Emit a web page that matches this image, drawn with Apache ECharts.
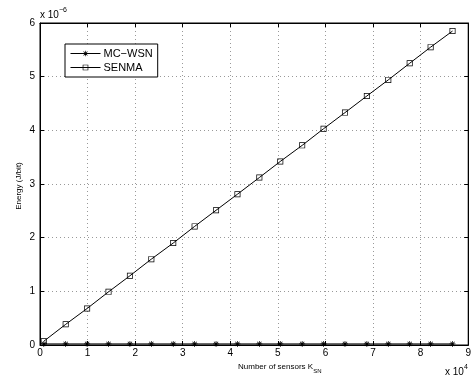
<!DOCTYPE html>
<html><head><meta charset="utf-8">
<script src="https://cdn.jsdelivr.net/npm/echarts@6/dist/echarts.min.js"></script>
<style>html,body{margin:0;padding:0;background:#fff}#c{width:474px;height:381px}</style>
</head><body><div id="c"></div>
<script>
// Data (x in units of 1e4 sensors, y in units of 1e-6 J/bit)
var sensorsX1e4 = [0.08, 0.54, 0.99, 1.44, 1.89, 2.34, 2.80, 3.25, 3.70, 4.15, 4.61, 5.05, 5.51, 5.96, 6.41, 6.87, 7.32, 7.77, 8.21, 8.67];
var senmaE = [0.07, 0.385, 0.68, 0.99, 1.29, 1.60, 1.90, 2.21, 2.51, 2.81, 3.12, 3.42, 3.72, 4.03, 4.33, 4.64, 4.94, 5.25, 5.55, 5.85];
var mcwsnE = [0.02, 0.02, 0.02, 0.02, 0.02, 0.02, 0.02, 0.02, 0.02, 0.02, 0.02, 0.02, 0.02, 0.02, 0.02, 0.02, 0.02, 0.02, 0.02, 0.02];
var seriesNames = ['MC\u2212WSN', 'SENMA'];
var xTicks = [0,1,2,3,4,5,6,7,8,9];
var yTicks = [0,1,2,3,4,5,6];

var FONT = "'Liberation Sans', Arial, Helvetica, sans-serif";
function pairs(xs, ys){ return xs.map(function(x,i){return [x, ys[i]];}); }

var starPath = 'path://M-0.6,-5L0.6,-5L0.6,5L-0.6,5Z' +
  'M-5,-0.6L5,-0.6L5,0.6L-5,0.6Z' +
  'M-3.11,-3.96L3.96,3.11L3.11,3.96L-3.96,-3.11Z' +
  'M-3.96,3.11L3.11,-3.96L3.96,-3.11L-3.11,3.96Z';
var boxPath = 'path://M-5,-5L5,-5L5,5L-5,5Z M-3.8,-3.8L-3.8,3.8L3.8,3.8L3.8,-3.8Z';

var chart = echarts.init(document.getElementById('c'), null, {renderer:'canvas'});
var split = {show:true, lineStyle:{color:'#999', type:[1,3], width:1}};
var axisCommon = {
  axisLine:{show:true, onZero:false, lineStyle:{color:'#000', width:1}},
  axisTick:{show:true, inside:true, length:4, lineStyle:{color:'#000'}},
};
chart.setOption({
  animation:false,
  backgroundColor:'#fff',
  textStyle:{fontFamily:FONT},
  grid:{left:40, right:3, top:23, bottom:36, show:true, borderColor:'#000', borderWidth:1, backgroundColor:'transparent'},
  legend:{
    left:65, top:44, orient:'vertical', padding:[4,5,4,5], itemGap:3,
    itemWidth:30, itemHeight:7, backgroundColor:'#fff', borderColor:'#000', borderWidth:1,
    lineStyle:{width:1, color:'#000'},
    textStyle:{fontFamily:FONT, fontSize:11, color:'#000', padding:[0,0,0,-2]},
    data:seriesNames
  },
  xAxis:[
    Object.assign({type:'value', min:0, max:9, interval:1,
      axisLabel:{color:'#000', fontSize:10, fontFamily:FONT, margin:3},
      splitLine:split}, axisCommon),
    Object.assign({type:'value', min:0, max:9, interval:1, position:'top',
      axisLabel:{show:false}, splitLine:{show:false}}, axisCommon)
  ],
  yAxis:[
    Object.assign({type:'value', min:0, max:6, interval:1,
      axisLabel:{color:'#000', fontSize:10, fontFamily:FONT, margin:5},
      splitLine:split}, axisCommon),
    Object.assign({type:'value', min:0, max:6, interval:1, position:'right',
      axisLabel:{show:false}, splitLine:{show:false}}, axisCommon)
  ],
  series:[
    {name:seriesNames[0], type:'line', data:pairs(sensorsX1e4, mcwsnE), symbol:starPath, symbolSize:6,
      lineStyle:{color:'#000', width:1}, itemStyle:{color:'#000'}, z:3},
    {name:seriesNames[1], type:'line', data:pairs(sensorsX1e4, senmaE), symbol:boxPath, symbolSize:6,
      lineStyle:{color:'#000', width:1}, itemStyle:{color:'#000'}, z:3}
  ],
  graphic:[
    {type:'text', left:40, top:7, style:{text:'{a|x 10}{b|\u22126}', rich:{
      a:{fontSize:10, fontFamily:FONT, fill:'#000', verticalAlign:'bottom'},
      b:{fontSize:7, fontFamily:FONT, fill:'#000', verticalAlign:'top', padding:[0,0,6,0]}}}},
    {type:'text', left:445, top:364, style:{text:'{a|x 10}{b|4}', rich:{
      a:{fontSize:10, fontFamily:FONT, fill:'#000', verticalAlign:'bottom'},
      b:{fontSize:7, fontFamily:FONT, fill:'#000', verticalAlign:'top', padding:[0,0,6,0]}}}},
    {type:'text', left:238, top:363, style:{text:'{a|Number of sensors K}{b|SN}', rich:{
      a:{fontSize:8, fontFamily:FONT, fill:'#000', verticalAlign:'top'},
      b:{fontSize:6, fontFamily:FONT, fill:'#000', verticalAlign:'bottom', padding:[5,0,0,0]}}}},
    {type:'text', x:19, y:186, rotation:Math.PI/2, style:{text:'Energy (J/bit)', fontSize:8, fontFamily:FONT, fill:'#000', align:'center', verticalAlign:'middle'}}
  ]
});
</script></body></html>
